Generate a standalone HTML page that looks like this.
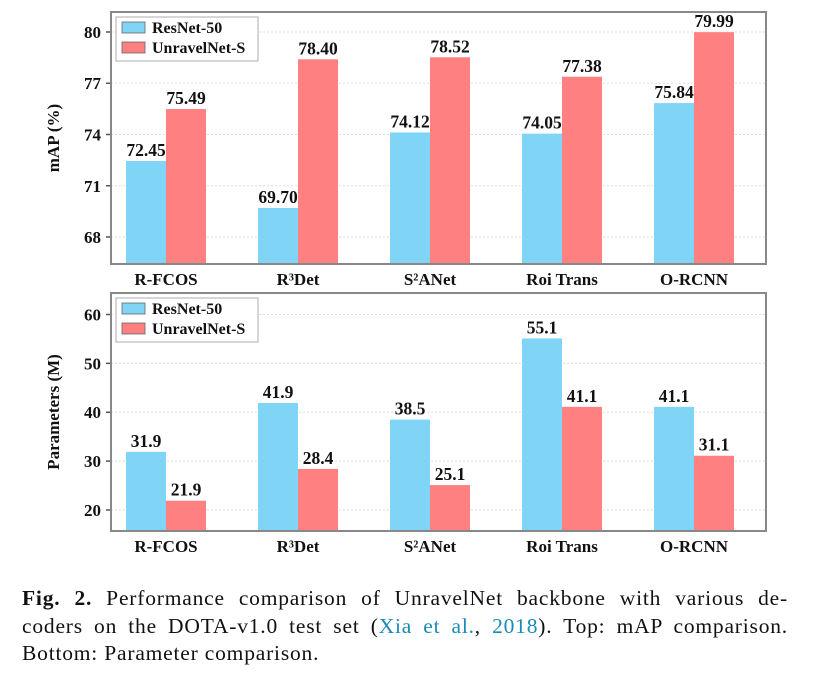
<!DOCTYPE html>
<html><head><meta charset="utf-8"><style>
body{margin:0;background:#fff;width:819px;height:690px;overflow:hidden;}
svg text{font-family:"Liberation Serif",serif;font-weight:bold;fill:#111;}
.cap{position:absolute;left:22px;top:585px;width:766px;font-family:"Liberation Serif",serif;font-size:21.5px;letter-spacing:0.8px;line-height:27.5px;color:#111;}
.cap div{text-align:justify;text-align-last:justify;white-space:nowrap;}
.cap div.last{text-align-last:left;}
.cap a{color:#1a8ab8;text-decoration:none;}
</style></head><body>
<svg id="chart" width="819" height="580" style="position:absolute;left:0;top:0"></svg>
<div class="cap">
<div><b>Fig. 2.</b> Performance comparison of UnravelNet backbone with various de-</div>
<div>coders on the DOTA-v1.0 test set (<a>Xia et al.</a>, <a>2018</a>). Top: mAP comparison.</div>
<div class="last">Bottom: Parameter comparison.</div>
</div>
<script>
const categories=["R-FCOS","R³Det","S²ANet","Roi Trans","O-RCNN"];
const mapResNet=[72.45,69.70,74.12,74.05,75.84];
const mapUnravel=[75.49,78.40,78.52,77.38,79.99];
const mapLabelsR=["72.45","69.70","74.12","74.05","75.84"];
const mapLabelsU=["75.49","78.40","78.52","77.38","79.99"];
const mapTicks=[68,71,74,77,80];
const parResNet=[31.9,41.9,38.5,55.1,41.1];
const parUnravel=[21.9,28.4,25.1,41.1,31.1];
const parTicks=[20,30,40,50,60];
const seriesNames=["ResNet-50","UnravelNet-S"];
const NS="http://www.w3.org/2000/svg";
const svg=document.getElementById('chart');
function mk(tag,attrs,parent){const e=document.createElementNS(NS,tag);for(const k in attrs)e.setAttribute(k,attrs[k]);(parent||svg).appendChild(e);return e;}
const colors=["#80d5f6","#fe8080"];
function panel(p){
  const g=mk('g',{});
  
  
  const y=v=>p.bottom-(v-p.ymin)/(p.ymax-p.ymin)*(p.bottom-p.top);
  const L=111,R=766;
  const x=i=>166+i*132;
  p.ticks.forEach(t=>{
    const gl=mk('line',{x1:L,x2:R,y1:y(t),y2:y(t),stroke:'#ddd','stroke-width':1,'stroke-dasharray':'2,2'},g);
    
    
    mk('line',{x1:L-5,x2:L,y1:y(t),y2:y(t),stroke:'#555','stroke-width':1.5},g);
    const tx=mk('text',{x:L-10,y:y(t)+6,'text-anchor':'end','font-size':17},g);
    tx.textContent=t;
    
    
  });
  [p.a,p.b].forEach((vals,s)=>{
    vals.forEach((v,i)=>{
      const x0=x(i)-40+s*40;
      const r=mk('rect',{x:x0,y:y(v),width:40,height:p.bottom-y(v),fill:colors[s]},g);
      
      
      const t=mk('text',{x:x0+20,y:y(v)-5,'text-anchor':'middle','font-size':17.5},g);
      t.textContent=(s?p.lb:p.la)[i];
      
      
    });
  });
  categories.forEach((c,i)=>{
    const t=mk('text',{x:x(i),y:p.bottom+21,'text-anchor':'middle','font-size':17},g);
    t.textContent=c;
    
    
  });
  mk('rect',{x:L,y:p.top,width:R-L,height:p.bottom-p.top,fill:'none',stroke:'#888','stroke-width':2},g);
  const yt=mk('text',{x:0,y:0,'text-anchor':'middle','font-size':17,transform:`translate(${L-52},${(p.top+p.bottom)/2}) rotate(-90)`},g);
  yt.textContent=p.title;
  
  
  const lg=mk('g',{},g);
  
  
  mk('rect',{x:116,y:p.top+5,width:142,height:44,fill:'#fff',stroke:'#bbb','stroke-width':1.2},lg);
  seriesNames.forEach((n,s)=>{
    mk('rect',{x:122,y:p.top+10+s*20,width:23,height:11,fill:colors[s],stroke:'#666','stroke-width':0.8},lg);
    const t=mk('text',{x:152,y:p.top+21+s*20,'font-size':16},lg);
    t.textContent=n;
    
    
  });
}
panel({name:'map-chart',top:12,bottom:264,ymin:66.42,ymax:81.17,ticks:mapTicks,a:mapResNet,b:mapUnravel,la:mapLabelsR,lb:mapLabelsU,title:'mAP (%)'});
panel({name:'params-chart',top:293,bottom:531,ymin:15.7,ymax:64.4,ticks:parTicks,a:parResNet,b:parUnravel,la:parResNet.map(v=>v.toFixed(1)),lb:parUnravel.map(v=>v.toFixed(1)),title:'Parameters (M)'});
</script>
</body></html>
